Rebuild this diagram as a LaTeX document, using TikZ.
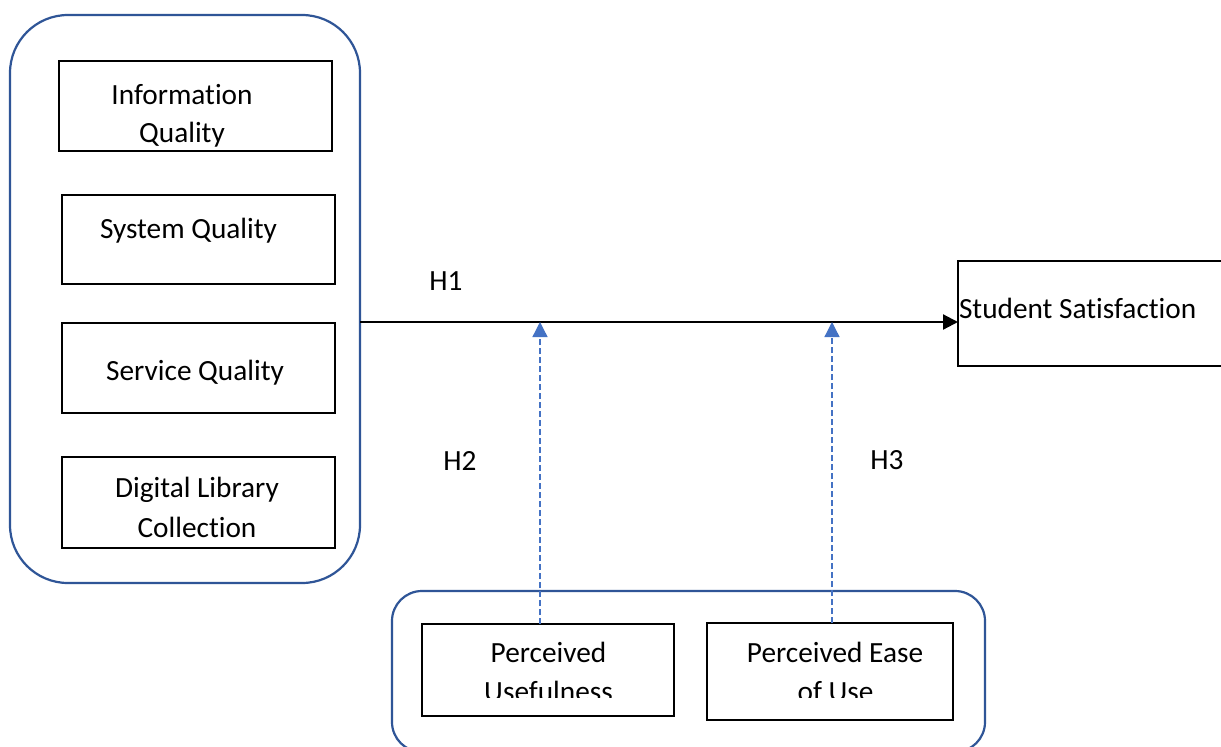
\documentclass[tikz,border=0pt]{standalone}
\usepackage{fontspec}
\setmainfont{Carlito}[Ligatures=NoCommon]
\usetikzlibrary{arrows.meta}
\definecolor{frameblue}{HTML}{2F5597}
\definecolor{dashblue}{HTML}{4472C4}
\tikzset{
  box/.style={draw=black, line width=2.2pt, inner sep=0pt, outer sep=0pt},
  group/.style={draw=frameblue, line width=2.2pt, inner sep=0pt, outer sep=0pt},
  txt/.style={inner sep=0pt, outer sep=0pt, anchor=base, font=\fontsize{29.3}{38}\selectfont},
  mainarrow/.style={draw=black, line width=2.2pt, -{Triangle[length=15pt,width=15pt]}},
  dasharrow/.style={draw=dashblue, line width=1.3pt, dash pattern=on 6pt off 3pt,
    -{Triangle[length=15pt,width=15pt,fill=dashblue]}},
}
\begin{document}
\begin{tikzpicture}[x=1pt,y=-1pt]
\clip (0,0) rectangle (1221,747);
\fill[white] (0,0) rectangle (1221,747);

% left group
\node[group, rounded corners=58pt, minimum width=350pt, minimum height=568pt] (lbox) at (185,299) {};
\node[box, minimum width=273pt, minimum height=90pt] (iq) at (195.5,106) {};
\node[box, minimum width=273pt, minimum height=89pt] (sq) at (198.5,239.5) {};
\node[box, minimum width=273pt, minimum height=90pt] (svq) at (198.5,368) {};
\node[box, minimum width=273pt, minimum height=91pt] (dl) at (198.5,502.5) {};

\node[txt] (iqa) at (182,104) {Information};
\node[txt] (iqb) at (182,142) {Quality};
\node[txt] (sqt) at (188.5,238) {System Quality};
\node[txt] (svqt) at (195,380) {Service Quality};
\node[txt] (dla) at (197,497) {Digital Library};
\node[txt] (dlb) at (197,537) {Collection};

% outcome
\node[box, minimum width=282pt, minimum height=105pt] (ss) at (1099,313.5) {};
\node[txt, anchor=base west] (sst) at (959,318) {Student Satisfaction};

% bottom group
\node[group, rounded corners=30pt, minimum width=593pt, minimum height=161pt] (bbox) at (688.5,671.5) {};
\node[box, minimum width=252pt, minimum height=92pt] (uf) at (548,670) {};
\node[box, minimum width=246pt, minimum height=97pt] (pe) at (830,671.5) {};

\node[txt] (ufa) at (548.5,662) {Perceived};
\node[txt] (pea) at (835,662) {Perceived Ease};
\begin{scope}
  \clip (422,624) rectangle (953,697);
  \node[txt] (ufb) at (548.5,701) {Usefulness};
  \node[txt] (peb) at (835.5,701) {of Use};
\end{scope}

% connectors
\coordinate (h1s) at (360,322);
\draw[mainarrow] (h1s) -- (h1s -| ss.west);
\coordinate (m1) at (540,322);
\coordinate (m2) at (832,322);
\draw[dasharrow] (uf.north -| m1) -- (m1);
\draw[dasharrow] (pe.north -| m2) -- (m2);

% labels
\node[txt] (h1) at (446,290) {H1};
\node[txt] (h2) at (460,470) {H2};
\node[txt] (h3) at (887,469) {H3};
\end{tikzpicture}
\end{document}
